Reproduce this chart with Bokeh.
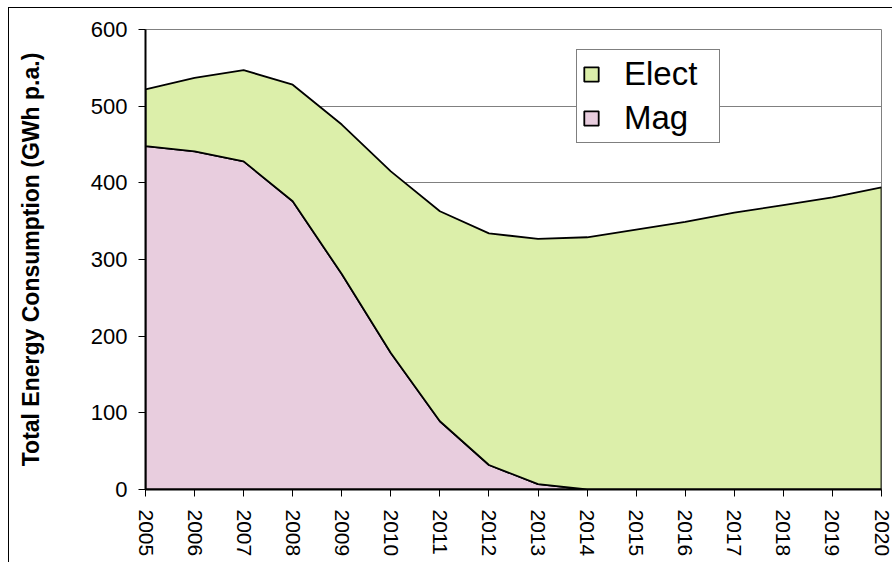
from bokeh.plotting import figure
from bokeh.models import Range1d, FixedTicker, Legend, LegendItem
from bokeh.embed import file_html
from bokeh.resources import INLINE

# ---- data ----
years = list(range(2005, 2021))
mag = [448, 441, 428, 376, 281, 178, 89, 32, 7, 0, 0, 0, 0, 0, 0, 0]
elect = [74, 96, 119, 152, 195, 237, 274, 302, 320, 329, 339, 349, 361, 371, 381, 394]
y_ticks = [0, 100, 200, 300, 400, 500, 600]
series_names = ["Elect", "Mag"]
y_title = "Total Energy Consumption (GWh p.a.)"

FONT = "Liberation Sans"
ELECT_COLOR = "#DCEFAA"
MAG_COLOR = "#E8CDDE"

total = [m + e for m, e in zip(mag, elect)]
zero = [0] * len(years)

p = figure(width=884, height=555,
           x_range=Range1d(years[0], years[-1]), y_range=Range1d(y_ticks[0], y_ticks[-1]),
           output_backend="svg", toolbar_location=None,
           min_border_left=136, min_border_right=12, min_border_top=21, min_border_bottom=74)
p.styles = {"border-left": "1px solid black", "border-top": "1px solid black",
            "margin-left": "8px", "margin-top": "7px"}

p.background_fill_color = "white"
p.border_fill_color = "white"
p.outline_line_color = "#808080"
p.outline_line_width = 1

# stacked areas as patches
xs_poly = years + years[::-1]
mag_r = p.patch(xs_poly, mag + zero[::-1], fill_color=MAG_COLOR, line_color="black", line_width=1.8)
elect_r = p.patch(xs_poly, total + mag[::-1], fill_color=ELECT_COLOR, line_color="black", line_width=1.8)

# grid
p.xgrid.visible = False
p.ygrid.ticker = FixedTicker(ticks=y_ticks)
p.ygrid.grid_line_color = "#808080"
p.ygrid.grid_line_width = 1

# x axis
p.xaxis.ticker = FixedTicker(ticks=years)
p.xaxis.major_label_orientation = "vertical"
p.xaxis.major_label_text_font = FONT
p.xaxis.major_label_text_font_size = "21px"
p.xaxis.major_label_text_color = "black"
p.xaxis.major_tick_out = 7
p.xaxis.major_tick_in = 0
p.xaxis.minor_tick_line_color = None
p.xaxis.axis_line_width = 2
p.xaxis.axis_line_color = "black"
p.xaxis.major_tick_line_color = "black"
p.xaxis.major_label_standoff = 13

# y axis
p.yaxis.ticker = FixedTicker(ticks=y_ticks)
p.yaxis.major_label_text_font = FONT
p.yaxis.major_label_text_font_size = "22px"
p.yaxis.major_label_text_color = "black"
p.yaxis.major_tick_out = 7
p.yaxis.major_tick_in = 0
p.yaxis.minor_tick_line_color = None
p.yaxis.axis_line_width = 2
p.yaxis.axis_line_color = "black"
p.yaxis.major_tick_line_color = "black"
p.yaxis.major_label_standoff = 11
p.yaxis.axis_label = y_title
p.yaxis.axis_label_text_font = FONT
p.yaxis.axis_label_text_font_style = "bold"
p.yaxis.axis_label_text_font_size = "23px"
p.yaxis.axis_label_text_color = "black"
p.yaxis.axis_label_standoff = 44

legend = Legend(items=[LegendItem(label=series_names[0], renderers=[elect_r]),
                       LegendItem(label=series_names[1], renderers=[mag_r])],
                location=(431, 346))
legend.label_text_font = FONT
legend.label_text_font_size = "33px"
legend.label_text_color = "black"
legend.glyph_width = 18
legend.glyph_height = 18
legend.label_height = 37
legend.label_width = 90
legend.label_standoff = 24
legend.padding = 5
legend.spacing = 6
legend.margin = 0
legend.border_line_color = "black"
legend.border_line_width = 1
legend.background_fill_color = "white"
legend.background_fill_alpha = 1
p.add_layout(legend)

open("out.html", "w").write(file_html(p, INLINE))
